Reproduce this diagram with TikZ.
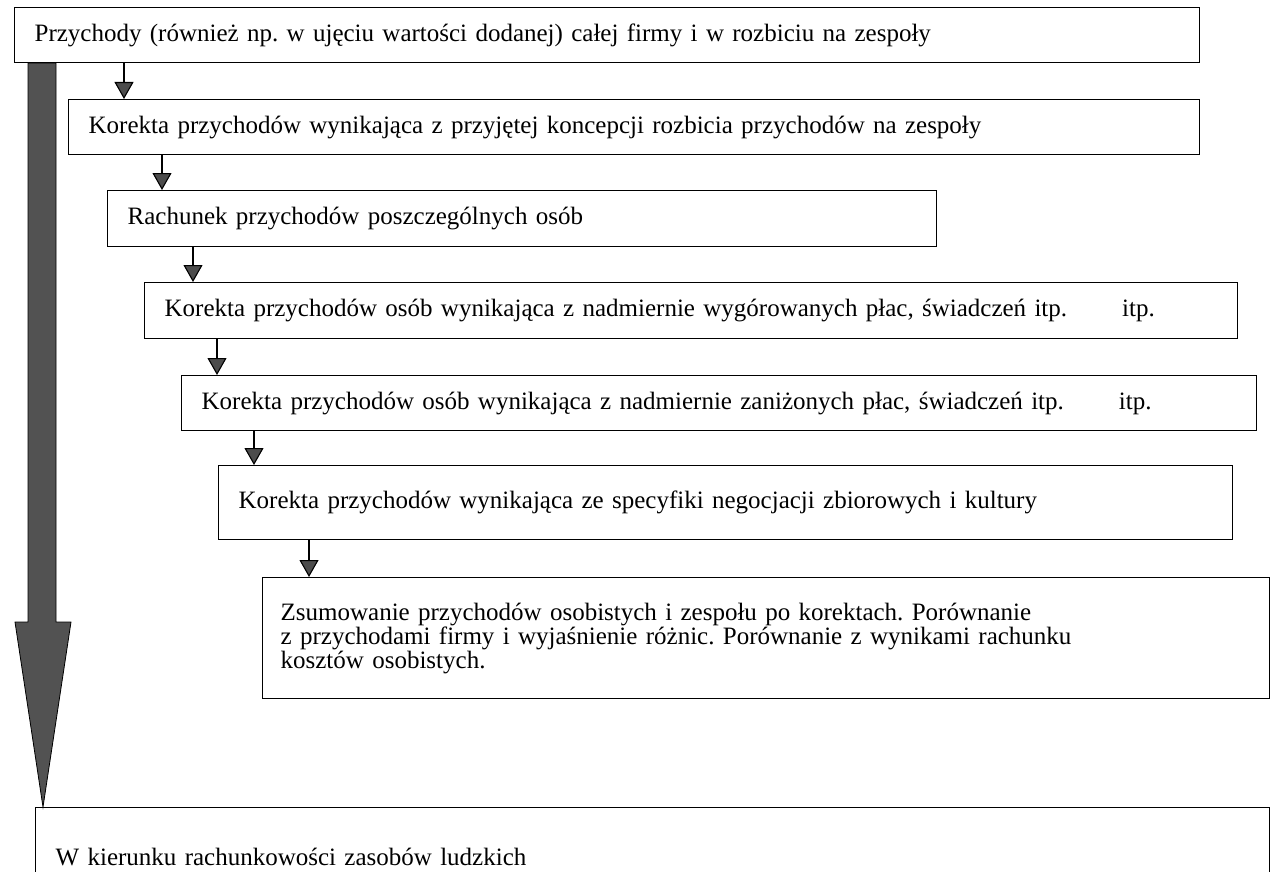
\documentclass[tikz,border=0pt]{standalone}
\usepackage{fontspec}
\setmainfont{Liberation Serif}
\usetikzlibrary{arrows.meta}
\begin{document}
\frenchspacing
\begin{tikzpicture}[x=1pt,y=-1pt,
  box/.style={draw=black, line width=1.3pt, rectangle, anchor=north west,
    inner xsep=20pt, inner ysep=0pt, align=left,
    font=\fontsize{25}{22}\selectfont},
  conn/.style={line width=1.1pt,
    -{Triangle[width=19pt,length=17pt,fill=black!70]}},
  bigarrow/.style={draw=black, line width=0.8pt, fill=black!68},
]
\clip (0,0) rectangle (1274,872);

% process steps, each indented below the previous one
\node[box, text width=1145pt, minimum height=55pt] (b1) at (14,7)
  {Przychody (również np. w ujęciu wartości dodanej) całej firmy i w rozbiciu na zespoły};
\node[box, text width=1091pt, minimum height=55pt] (b2) at (68,99)
  {Korekta przychodów wynikająca z przyjętej koncepcji rozbicia przychodów na zespoły};
\node[box, text width=789pt, minimum height=56pt] (b3) at (107,190)
  {Rachunek przychodów poszczególnych osób};
\node[box, text width=1053pt, minimum height=56pt] (b4) at (144,282)
  {Korekta przychodów osób wynikająca z nadmiernie wygórowanych płac, świadczeń itp.\hspace{55pt}itp.};
\node[box, text width=1035pt, minimum height=55pt] (b5) at (181,375)
  {Korekta przychodów osób wynikająca z nadmiernie zaniżonych płac, świadczeń itp.\hspace{55pt}itp.};
\node[box, text width=974pt, minimum height=74pt] (b6) at (218,465)
  {Korekta przychodów wynikająca ze specyfiki negocjacji zbiorowych i kultury};
\node[box, inner xsep=18pt, text width=971pt, minimum height=121pt] (b7) at (262,577)
  {Zsumowanie przychodów osobistych i zespołu po korektach. Porównanie\\
   z przychodami firmy i wyjaśnienie różnic. Porównanie z wynikami rachunku\\
   kosztów osobistych.};
\node[box, text width=1194pt, text height=58pt, text depth=22pt] (b8) at (35,807)
  {W kierunku rachunkowości zasobów ludzkich};

% step-to-step connectors
\draw[conn] ([xshift=110pt]b1.south west) -- ([xshift=110pt]b1.south west |- b2.north);
\draw[conn] ([xshift=94pt]b2.south west) -- ([xshift=94pt]b2.south west |- b3.north);
\draw[conn] ([xshift=86pt]b3.south west) -- ([xshift=86pt]b3.south west |- b4.north);
\draw[conn] ([xshift=73pt]b4.south west) -- ([xshift=73pt]b4.south west |- b5.north);
\draw[conn] ([xshift=73pt]b5.south west) -- ([xshift=73pt]b5.south west |- b6.north);
\draw[conn] ([xshift=91pt]b6.south west) -- ([xshift=91pt]b6.south west |- b7.north);

% long arrow down the left side
\coordinate (sl) at ([xshift=14pt]b1.south west);
\coordinate (sr) at ([xshift=42pt]b1.south west);
\coordinate (tip) at ([xshift=8pt]b8.north west);
\path[bigarrow] (sl) -- (sl |- 0,622) -- (15,622) -- (tip) -- (71,622)
  -- (sr |- 0,622) -- (sr) -- cycle;
\end{tikzpicture}
\end{document}
